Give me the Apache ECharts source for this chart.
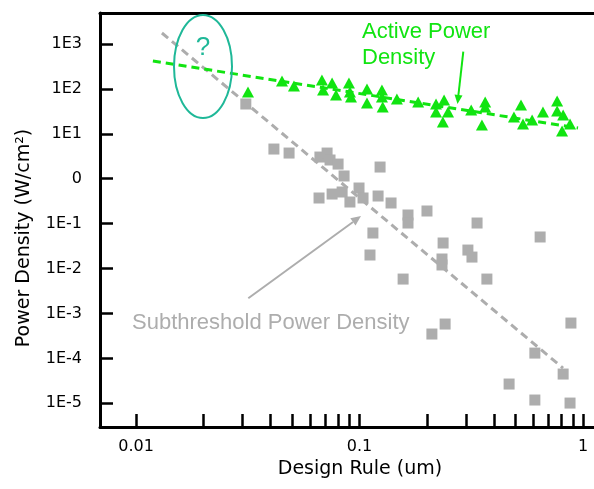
<!DOCTYPE html>
<html>
<head>
<meta charset="utf-8">
<script src="https://cdn.jsdelivr.net/npm/echarts@6/dist/echarts.min.js"></script>
<style>
html, body { margin: 0; padding: 0; background: #fff; }
#main { width: 594px; height: 489px; }
</style>
</head>
<body>
<div id="main"></div>
<script>
// design rule (um) and active power density (W/cm2)
var activeX = [0.0317, 0.045, 0.0509, 0.0679, 0.0687, 0.0754, 0.0785, 0.0897, 0.0906, 0.0916,
    0.108, 0.108, 0.126, 0.126, 0.127, 0.147, 0.183, 0.220, 0.239, 0.220,
    0.249, 0.236, 0.316, 0.365, 0.365, 0.353, 0.528, 0.491, 0.539, 0.592,
    0.662, 0.766, 0.766, 0.815, 0.875, 0.806];
var activeY = [85, 150, 116, 158, 95, 135, 73, 135, 85, 66,
    99.5, 48.5, 95, 66, 39.5, 59.6, 51, 46, 56.6, 30.6,
    30.6, 18.3, 33.9, 51, 39.5, 15.7, 43.8, 23.7, 16.5, 20.3,
    30.6, 53.8, 32.2, 26.2, 16.5, 11.5];

// subthreshold power density
var subX = [0.0310, 0.0414, 0.0484, 0.0665, 0.0716, 0.0738, 0.0802, 0.0853, 0.1236, 0.0659,
    0.0754, 0.0836, 0.0906, 0.0995, 0.1037, 0.1211, 0.1384, 0.1148, 0.1114, 0.1648,
    0.1648, 0.2004, 0.1567, 0.2366, 0.2339, 0.2339, 0.3055, 0.3186, 0.3357, 0.3715,
    0.2416, 0.2108, 0.643, 0.883, 0.609, 0.815, 0.467, 0.609, 0.875];
var subY = [46.1, 4.58, 3.73, 3.04, 3.73, 2.61, 2.12, 1.15, 1.82, 0.372,
    0.456, 0.506, 0.303, 0.621, 0.372, 0.412, 0.288, 0.0618, 0.0200, 0.1556,
    0.1031, 0.191, 0.00583, 0.0370, 0.0163, 0.0120, 0.0258, 0.0180, 0.1031, 0.00583,
    5.81e-4, 3.48e-4, 0.0504, 6.11e-4, 1.31e-4, 4.47e-5, 2.68e-5, 1.18e-5, 1.01e-5];

// trend lines (end points)
var activeFitX = [0.0119, 0.950];
var activeFitY = [418, 13.5];
var subFitX = [0.01306, 0.814];
var subFitY = [1758, 6.08e-5];

// axis ticks
var xTicks = [0.01, 0.02, 0.03, 0.04, 0.05, 0.06, 0.07, 0.08, 0.09,
    0.1, 0.2, 0.3, 0.4, 0.5, 0.6, 0.7, 0.8, 0.9, 1];
var xLabelValues = [0.01, 0.1, 1];
var xLabelText = ['0.01', '0.1', '1'];
var yLabelValues = [1e-5, 1e-4, 1e-3, 1e-2, 1e-1, 1, 10, 100, 1000];
var yLabelText = ['1E-5', '1E-4', '1E-3', '1E-2', '1E-1', '0', '1E1', '1E2', '1E3'];

function zip(xs, ys) {
    var out = [];
    for (var i = 0; i < xs.length; i++) out.push([xs[i], ys[i]]);
    return out;
}
function pickLabel(values, texts) {
    return function (v) {
        for (var i = 0; i < values.length; i++) {
            if (Math.abs(Math.log10(v) - Math.log10(values[i])) < 0.01) return texts[i];
        }
        return '';
    };
}

var green = '#11e411';
var gray = '#adadad';
var axisFont = 'DejaVu Sans';

var myChart = echarts.init(document.getElementById('main'));
var option = {
    animation: false,
    grid: { left: 100, right: 0, top: 13, bottom: 62 },
    xAxis: [
        {
            type: 'log',
            min: 0.0069,
            max: 1.12,
            name: 'Design Rule (um)',
            nameLocation: 'middle',
            nameGap: 32,
            nameTextStyle: { fontFamily: axisFont, fontSize: 19, color: '#000', padding: [0, 0, 0, 26] },
            axisLine: { lineStyle: { color: '#000', width: 3 } },
            axisTick: { inside: true, length: 13, lineStyle: { color: '#000', width: 2.5 }, customValues: xTicks },
            axisLabel: {
                customValues: xLabelValues,
                margin: 12,
                fontFamily: axisFont,
                fontSize: 16,
                color: '#000',
                formatter: pickLabel(xLabelValues, xLabelText)
            },
            splitLine: { show: false }
        },
        {
            type: 'log',
            position: 'top',
            min: 0.0069,
            max: 1.12,
            axisLine: { lineStyle: { color: '#000', width: 3 } },
            axisTick: { show: false },
            axisLabel: { show: false },
            splitLine: { show: false }
        }
    ],
    yAxis: {
        type: 'log',
        min: 2.96e-6,
        max: 4899,
        name: 'Power Density (W/cm²)',
        nameLocation: 'middle',
        nameGap: 66,
        nameRotate: 90,
        nameTextStyle: { fontFamily: axisFont, fontSize: 19, color: '#000', padding: [0, 36, 0, 0] },
        axisLine: { lineStyle: { color: '#000', width: 3 } },
        axisTick: { inside: true, length: 13, lineStyle: { color: '#000', width: 2.5 }, customValues: yLabelValues },
        axisLabel: {
            customValues: yLabelValues,
            margin: 18,
            fontFamily: axisFont,
            fontSize: 16,
            color: '#000',
            formatter: pickLabel(yLabelValues, yLabelText)
        },
        splitLine: { show: false }
    },
    series: [
        {
            name: 'Subthreshold fit',
            type: 'line',
            data: zip(subFitX, subFitY),
            symbol: 'none',
            silent: true,
            lineStyle: { color: gray, width: 3, type: [8, 5] },
            z: 1
        },
        {
            name: 'Subthreshold Power Density',
            type: 'scatter',
            data: zip(subX, subY),
            symbol: 'rect',
            symbolSize: 11,
            itemStyle: { color: gray, opacity: 1 },
            z: 2
        },
        {
            name: 'Active fit',
            type: 'line',
            data: zip(activeFitX, activeFitY),
            symbol: 'none',
            silent: true,
            lineStyle: { color: green, width: 3, type: [8, 5] },
            z: 3
        },
        {
            name: 'Active Power Density',
            type: 'scatter',
            data: zip(activeX, activeY),
            symbol: 'triangle',
            symbolSize: [12, 11],
            itemStyle: { color: green, opacity: 1 },
            z: 4
        }
    ],
    graphic: [
        {
            type: 'ellipse',
            shape: { cx: 203, cy: 66.5, rx: 29, ry: 51.5 },
            style: { fill: 'none', stroke: '#1fb898', lineWidth: 2 },
            z: 10
        },
        {
            type: 'text',
            x: 203, y: 48,
            style: { text: '?', font: '26px "Liberation Sans"', fill: '#1fb898', align: 'center', verticalAlign: 'middle' },
            z: 10
        },
        {
            type: 'text',
            x: 362, y: 19,
            style: { text: 'Active Power\nDensity', font: '22px "Liberation Sans"', lineHeight: 26, fill: green },
            z: 10
        },
        {
            type: 'line',
            shape: { x1: 463.3, y1: 51.7, x2: 458.3, y2: 96 },
            style: { stroke: green, lineWidth: 2 },
            z: 10
        },
        {
            type: 'polygon',
            shape: { points: [[457.5, 104], [462.5, 95.5], [454.5, 94.6]] },
            style: { fill: green },
            z: 10
        },
        {
            type: 'text',
            x: 132, y: 312,
            style: { text: 'Subthreshold Power Density', font: '22px "Liberation Sans"', fill: gray },
            z: 10
        },
        {
            type: 'line',
            shape: { x1: 248.3, y1: 298.3, x2: 353, y2: 222 },
            style: { stroke: gray, lineWidth: 2 },
            z: 10
        },
        {
            type: 'polygon',
            shape: { points: [[361, 216], [355.5, 225.5], [350.3, 218.3]] },
            style: { fill: gray },
            z: 10
        }
    ]
};
myChart.setOption(option);
</script>
</body>
</html>
